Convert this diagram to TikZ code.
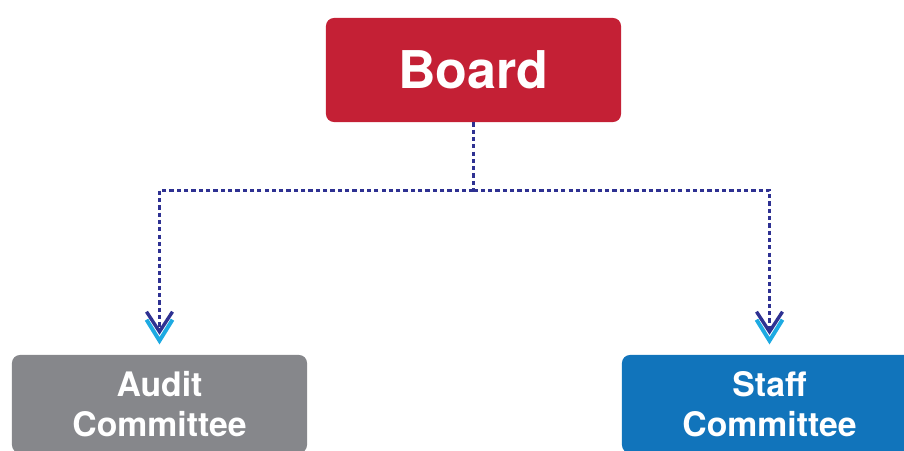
\documentclass[tikz,border=0pt]{standalone}
\usepackage{fontspec}
\setmainfont{TeX Gyre Heros}
\usepackage{xcolor}
\usepackage{tikz}
\usetikzlibrary{calc, positioning}
\definecolor{boardred}{HTML}{C42035}
\definecolor{auditgray}{HTML}{86878B}
\definecolor{staffblue}{HTML}{1174BB}
\definecolor{linknavy}{HTML}{2E3192}
\definecolor{tipblue}{HTML}{1DAAE2}

\begin{document}
\begin{tikzpicture}[x=0.025cm, y=0.025cm,
  box/.style={fill=#1, rounded corners=0.2cm, minimum width=7.375cm, text=white, align=center},
  link/.style={draw=linknavy, line width=1.9pt, dash pattern=on 3pt off 2.2pt},
  chevrons/.pic={
    \draw[linknavy, line width=2.4pt] (-13,29) -- (0,9) -- (13,29);
    \draw[tipblue, line width=2.8pt] (-13,21) -- (0,0) -- (13,21);
  }]
  \useasboundingbox (0,0) rectangle (904,451);
  \clip (0,0) rectangle (904,451);

  \node[box=boardred, minimum height=2.6cm, font=\bfseries\fontsize{37}{40}\selectfont] (board) at (473.5,381) {Board};
  \node[box=auditgray, minimum height=2.45cm, font=\bfseries\fontsize{24}{28.5}\selectfont] (audit) at (159.5,47) {Audit\\Committee};
  \node[box=staffblue, minimum height=2.45cm, font=\bfseries\fontsize{24}{28.5}\selectfont] (staff) at (769.5,47) {Staff\\Committee};

  % dotted links down to both committees
  \draw[link] (board.south) -- ++(0,-68) coordinate (split);
  \draw[link] (split) -| ($(audit.north)+(0,25)$);
  \draw[link] (split) -| ($(staff.north)+(0,25)$);
  \pic at ($(audit.north)+(0,14)$) {chevrons};
  \pic at ($(staff.north)+(0,14)$) {chevrons};
\end{tikzpicture}
\end{document}
